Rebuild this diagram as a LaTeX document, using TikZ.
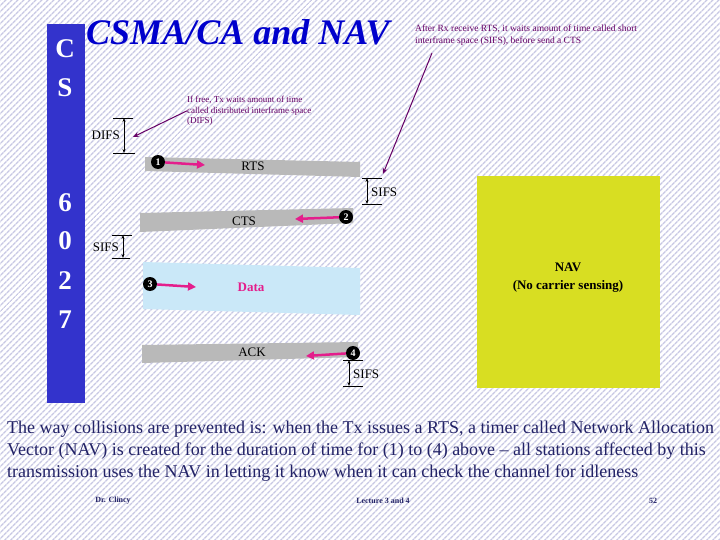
\documentclass[tikz,border=0pt]{standalone}
\usepackage{fontspec}
\setmainfont{Liberation Serif}
\usetikzlibrary{arrows.meta,patterns.meta}
\definecolor{stripe}{RGB}{200,200,228}
\definecolor{slideblue}{RGB}{51,51,204}
\definecolor{titleblue}{RGB}{0,0,204}
\definecolor{notepurple}{RGB}{102,0,102}
\definecolor{bargray}{RGB}{185,185,185}
\definecolor{datablue}{RGB}{202,232,248}
\definecolor{pinkarrow}{RGB}{228,30,140}
\definecolor{navyellow}{RGB}{216,222,34}
\definecolor{bodyblue}{RGB}{34,34,102}
\tikzset{
  bar letter/.style={text=white, font=\bfseries\fontsize{27}{27}\selectfont},
  note/.style={anchor=north west, inner sep=0pt, align=left, text=notepurple},
  note arrow/.style={draw=notepurple, line width=1pt, -{Stealth[length=6pt,width=5pt]}},
  dim/.style={line width=0.6pt},
  dim arrow/.style={line width=0.6pt, {Stealth[length=4pt,width=3pt]}-{Stealth[length=4pt,width=3pt]}},
  dim label/.style={inner sep=0pt, font=\fontsize{13}{13}\selectfont},
  bar label/.style={inner sep=0pt, font=\fontsize{13}{13}\selectfont},
  num/.style={circle, fill=black, text=white, inner sep=0pt, minimum size=14pt, font=\bfseries\fontsize{10}{10}\selectfont},
  pink arrow/.style={draw=pinkarrow, line width=2.5pt, -{Triangle[length=8pt,width=8pt]}},
  footer/.style={inner sep=0pt, text=bodyblue, font=\bfseries\fontsize{8}{8}\selectfont}
}
\begin{document}
\begin{tikzpicture}[x=1pt,y=-1pt]
\useasboundingbox (0,0) rectangle (720,540);
\fill[white] (0,0) rectangle (720,540);
\fill[pattern={Lines[angle=45,distance=4pt,line width=1.5pt]}, pattern color=stripe] (0,0) rectangle (720,540);

\fill[slideblue] (47,24) rectangle (85,403);
\node[bar letter] (c) at (65,49) {C};
\node[bar letter] (s) at (65,88) {S};
\node[bar letter] (six) at (65,203) {6};
\node[bar letter] (zero) at (65,241) {0};
\node[bar letter] (two) at (65,281) {2};
\node[bar letter] (seven) at (65,320) {7};

\node[anchor=base west, inner sep=0pt, text=titleblue, font=\bfseries\itshape\fontsize{36}{36}\selectfont] (title) at (86,45) {CSMA/CA and NAV};

\node[note, font=\fontsize{9.5}{12}\selectfont] (sifsnote) at (415,25) {After Rx receive RTS, it waits amount of time called short\\interframe space (SIFS), before send a CTS};
\coordinate (sifsfrom) at (432,53);
\coordinate (sifstip) at (383,174);
\draw[note arrow] (sifsfrom) -- (sifstip);

\node[note, font=\fontsize{9}{10.5}\selectfont] (difsnote) at (187,96) {If free, Tx waits amount of time\\called distributed interframe space\\(DIFS)};
\coordinate (difstip) at (133,137);
\draw[note arrow] (difsnote.west) -- (difstip);

\coordinate (difstop) at (124,118);
\coordinate (difsbot) at (124,153);
\draw[dim] ([xshift=-11pt]difstop) -- ([xshift=9pt]difstop);
\draw[dim] ([xshift=-11pt]difsbot) -- ([xshift=11pt]difsbot);
\draw[dim arrow] (difstop) -- (difsbot);
\node[dim label, anchor=east] (difs) at (120,135) {DIFS};

\fill[bargray] (145,157) -- (360,162) -- (360,177) -- (145,171) -- cycle;
\node[bar label] (rts) at (253,166) {RTS};
\node[num] (n1) at (158,162) {1};
\coordinate (rtsend) at (205,165);
\draw[pink arrow] (n1) -- (rtsend);

\coordinate (sifsatop) at (367,178);
\coordinate (sifsabot) at (367,204);
\draw[dim] ([xshift=-5pt]sifsatop) -- ([xshift=15pt]sifsatop);
\draw[dim] ([xshift=-5pt]sifsabot) -- ([xshift=15pt]sifsabot);
\draw[dim arrow] (sifsatop) -- (sifsabot);
\node[dim label, anchor=west] (sifsa) at (371,192) {SIFS};

\fill[bargray] (140,213) -- (353,208) -- (353,223) -- (140,232) -- cycle;
\node[bar label] (cts) at (244,221) {CTS};
\node[num] (n2) at (346,217) {2};
\coordinate (ctsend) at (295,219);
\draw[pink arrow] (n2) -- (ctsend);

\coordinate (sifsbtop) at (123,235);
\coordinate (sifsbbot) at (123,258);
\draw[dim] ([xshift=-11pt]sifsbtop) -- ([xshift=9pt]sifsbtop);
\draw[dim] ([xshift=-11pt]sifsbbot) -- ([xshift=7pt]sifsbbot);
\draw[dim arrow] (sifsbtop) -- (sifsbbot);
\node[dim label, anchor=east] (sifsb) at (119,247) {SIFS};

\fill[datablue] (143,262) -- (360,268) -- (360,315) -- (143,309) -- cycle;
\node[bar label, text=pinkarrow, font=\bfseries\fontsize{13}{13}\selectfont] (data) at (251,287) {Data};
\node[num] (n3) at (150,284) {3};
\coordinate (dataend) at (196,287);
\draw[pink arrow] (n3) -- (dataend);

\fill[bargray] (142,345) -- (358,342) -- (358,357) -- (142,363) -- cycle;
\node[bar label] (ack) at (252,352) {ACK};
\node[num] (n4) at (353,353) {4};
\coordinate (ackend) at (306,356);
\draw[pink arrow] (n4) -- (ackend);

\coordinate (sifsctop) at (349,360);
\coordinate (sifscbot) at (349,386);
\draw[dim] ([xshift=-6pt]sifsctop) -- ([xshift=14pt]sifsctop);
\draw[dim] ([xshift=-6pt]sifscbot) -- ([xshift=14pt]sifscbot);
\draw[dim arrow] (sifsctop) -- (sifscbot);
\node[dim label, anchor=west] (sifsc) at (353,374) {SIFS};

\fill[navyellow] (477,176) rectangle (660,388);
\node[align=center, inner sep=0pt, font=\bfseries\fontsize{13}{18}\selectfont] (nav) at (568,278) {NAV\\(No carrier sensing)};

\node[anchor=north west, inner sep=0pt, align=left, text=bodyblue, font=\fontsize{18}{22}\selectfont] (body) at (7,421) {The way collisions are prevented is: when the Tx issues a RTS, a timer called Network Allocation\\Vector (NAV) is created for the duration of time for (1) to (4) above -- all stations affected by this\\transmission uses the NAV in letting it know when it can check the channel for idleness};

\node[footer] (author) at (113,501) {Dr. Clincy};
\node[footer] (lecture) at (383,501) {Lecture 3 and 4};
\node[footer] (page) at (653,501) {52};
\end{tikzpicture}
\end{document}
